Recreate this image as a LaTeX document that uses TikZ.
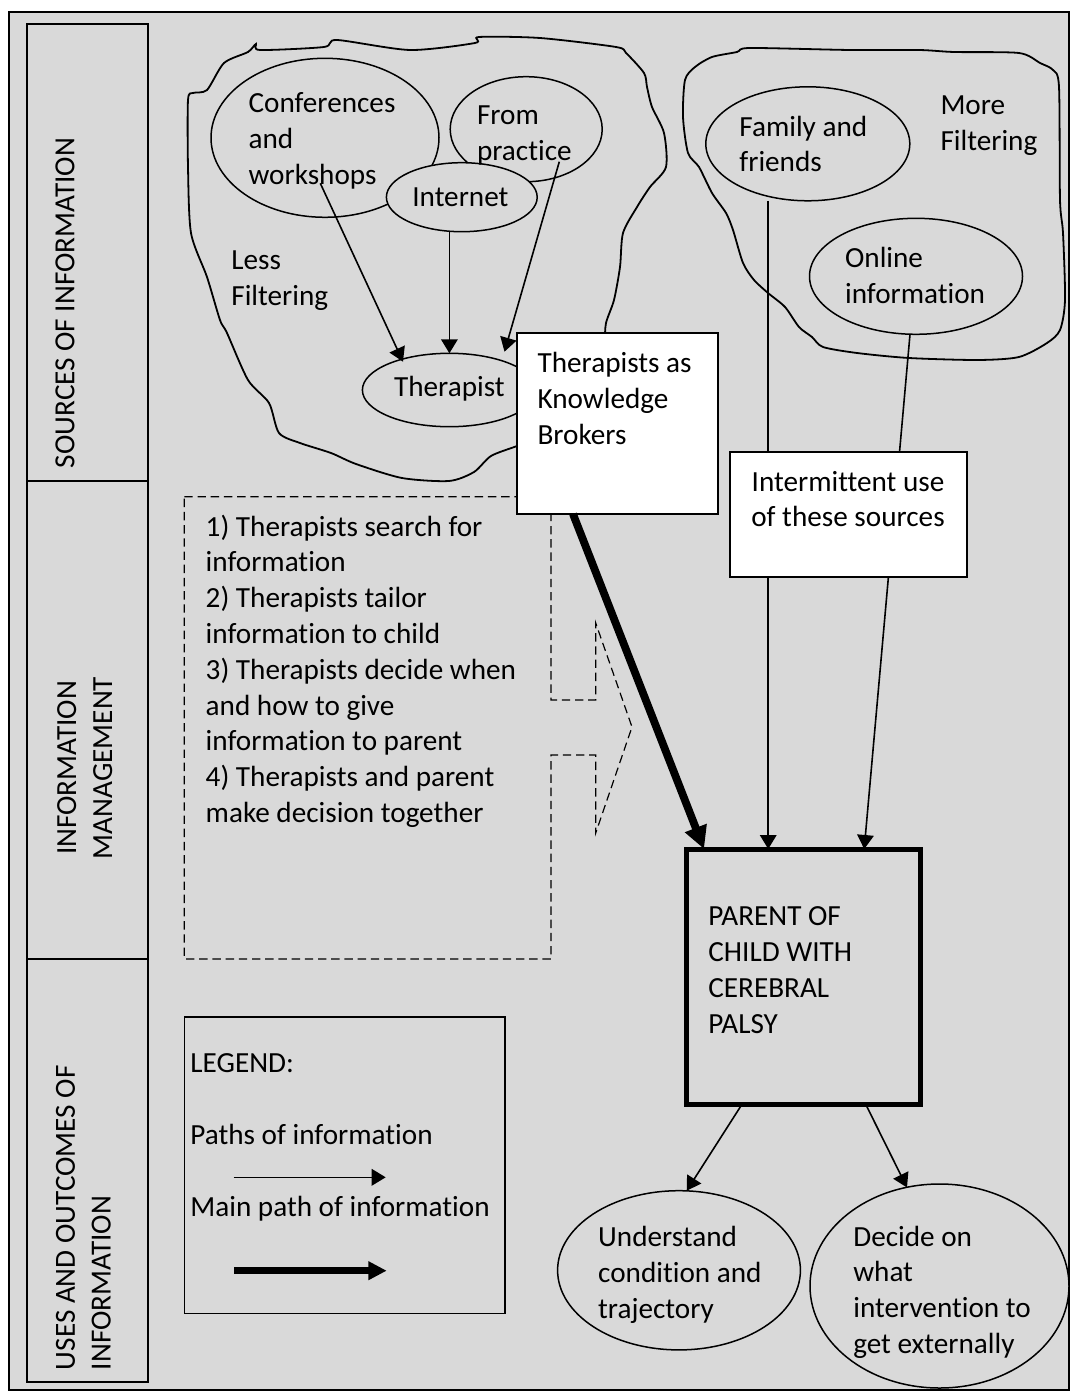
\documentclass[tikz,border=0pt]{standalone}
\usepackage{fontspec}
\setmainfont{Carlito}[Ligatures=NoCommon]
\usetikzlibrary{arrows.meta,shapes.geometric,calc}
\definecolor{panel}{HTML}{D9D9D9}
\begin{document}
\begin{tikzpicture}[x=0.5pt,y=-0.5pt,
  every node/.style={font=\fontsize{14.6pt}{17.9pt}\selectfont, inner sep=0pt, outer sep=0pt},
  txt/.style={align=left, anchor=base west},
  oval/.style={ellipse, draw, line width=0.75pt, fill=panel},
  whitebox/.style={draw, line width=0.9pt, fill=white, anchor=north west},
  link/.style={line width=0.8pt, -{Triangle[length=7pt,width=8.3pt]}},
  mainlink/.style={line width=3.9pt, -{Triangle[length=11.3pt,width=11pt]}},
  keylink/.style={line width=3.35pt, -{Triangle[length=9.2pt,width=8.9pt]}},
  blob/.style={line width=0.9pt},
  dashedge/.style={line width=0.6pt, dash pattern=on 4.2pt off 2.4pt}
]
\useasboundingbox (0,0) rectangle (1070,1391);

% outer panel
\draw[line width=1pt, fill=panel] (8.6,11.7) rectangle (1068.5,1389.5);

% section column (multi-line nodes sit on the baseline of their last line)
\draw[line width=0.9pt] (26.9,24.3) rectangle (148,1382);
\draw[line width=0.9pt] (26.9,481) -- (148,481);
\draw[line width=0.9pt] (26.9,959) -- (148,959);
\node[rotate=90, anchor=base west] (secA) at (74.4,468) {SOURCES OF INFORMATION};
\node[rotate=90, anchor=base, align=center] (secB) at (112,768) {INFORMATION\\MANAGEMENT};
\node[rotate=90, anchor=base west, align=left] (secC) at (110.6,1370) {USES AND OUTCOMES OF\\INFORMATION};

% hand-drawn outlines around the sources
\draw[blob] plot[smooth cycle, tension=0.45] coordinates {
  (248,52) (256,44) (260,50) (324,47) (337,40) (410,50) (475,43) (479,37)
  (540,38) (616,47) (626,53) (644,73) (647,87) (652,107) (664,133) (666,167)
  (650,187) (637,207) (623,233) (620,267) (614,300) (606,323) (604,345)
  (595,390) (560,430) (517,446) (491,456) (474,472) (449,481) (402,478)
  (356,464) (331,453) (300,443) (279,433) (269,403) (248,380) (227,333)
  (220,320) (207,277) (191,233) (188,167) (188,100) (193,93) (207,90) (224,63)};
\draw[blob] plot[smooth cycle, tension=0.45] coordinates {
  (750,48) (850,50) (919,50) (954,52) (1019,53) (1040,63) (1053,70) (1059,87)
  (1060,200) (1063,233) (1065,300) (1060,330) (1047,343) (1019,357) (978,360)
  (909,358) (857,353) (823,347) (812,337) (799,327) (785,307) (768,293)
  (754,280) (743,263) (733,230) (726,213) (712,193) (699,167) (688,153)
  (683,117) (685,80) (695,67) (712,57) (737,52)};

% source ellipses
\node[oval, minimum width=114pt, minimum height=79.5pt] (conf) at (325,137.8) {};
\node[oval, minimum width=76pt, minimum height=52.5pt] (prac) at (526.2,129.2) {};
\node[oval, minimum width=75.4pt, minimum height=34.5pt] (inet) at (461.8,197.2) {};
\node[oval, minimum width=87pt, minimum height=36.7pt] (ther) at (449.4,390) {};
\node[oval, minimum width=102pt, minimum height=57pt] (fam) at (807.8,143.8) {};
\node[oval, minimum width=106.5pt, minimum height=58pt] (onl) at (916,276.3) {};

\node[txt] (confT) at (248.6,184.3) {Conferences\\and\\workshops};
\node[txt] (pracT) at (477,160.2) {From\\practice};
\node[anchor=base] (inetT) at (460.4,206.1) {Internet};
\node[anchor=base] (therT) at (449.4,396.1) {Therapist};
\node[txt] (lessT) at (231.4,305.2) {Less\\Filtering};
\node[txt] (famT) at (739.4,171.9) {Family and\\friends};
\node[txt] (moreT) at (940.5,150.2) {More\\Filtering};
\node[txt] (onlT) at (845.1,303.5) {Online\\information};

% parent box
\node[draw, line width=2.5pt, anchor=north west, minimum width=116.75pt, minimum height=127.75pt] (parent) at (686.5,849) {};
\node[txt] (parentT) at (708.4,1033.3) {PARENT OF\\CHILD WITH\\CEREBRAL\\PALSY};

\coordinate (famtip) at ($(parent.north west)!0.350!(parent.north east)$);
\coordinate (onltip) at ($(parent.north west)!0.761!(parent.north east)$);
\coordinate (maintip) at ($(parent.north west)!0.075!(parent.north east)$);

% paths of information
\draw[link] ($(conf.center)+(-4.7,45.5)$) -- ($(ther.center)+(-46.4,-28.3)$);
\draw[link] (inet.south -| ther.north) -- (ther.north);
\draw[link] ($(prac.center)+(33.1,32.5)$) -- ($(ther.center)+(55.1,-38.3)$);
\draw[link] (fam.south -| famtip) -- (famtip);
\draw[link] ($(onl.south)+(-6,0)$) -- (onltip);

% information management steps
\draw[dashedge] (184.3,496.7) -- (551,496.7) -- (551,700) -- (595.7,700) -- (595.7,623)
  -- (632,727) -- (595.7,833) -- (595.7,755) -- (551,755) -- (551,959) -- (184.3,959) -- cycle;
\node[txt] (steps) at (205.7,822.5) {1) Therapists search for\\information\\2) Therapists tailor\\information to child\\3) Therapists decide when\\and how to give\\information to parent\\4) Therapists and parent\\make decision together};

% white boxes
\node[whitebox, minimum width=100.5pt, minimum height=90.35pt] (kb) at (516.7,333.3) {};
\node[txt] (kbT) at (537.6,444.3) {Therapists as\\Knowledge\\Brokers};
\node[whitebox, minimum width=118.35pt, minimum height=62.5pt] (inter) at (730,451.7) {};
\node[anchor=base, align=center] (interT) at (848,526.9) {Intermittent use\\of these sources};

% main path
\draw[mainlink] ($(kb.south west)!0.28!(kb.south east)$) -- (maintip);

% outcomes
\node[oval, minimum width=121.4pt, minimum height=79.6pt] (und) at (679,1270.3) {};
\node[oval, minimum width=129.5pt, minimum height=102pt] (dec) at (939.5,1286) {};
\node[txt] (undT) at (598.2,1318) {Understand\\condition and\\trajectory};
\node[txt] (decT) at (853.3,1353.5) {Decide on\\what\\intervention to\\get externally};
\draw[link] ($(parent.south west)!0.237!(parent.south east)$) -- ($(und.north)+(7.7,0)$);
\draw[link] ($(parent.south west)!0.768!(parent.south east)$) -- ($(dec.north)+(-32.5,3.5)$);

% legend
\node[draw, line width=0.8pt, anchor=north west, minimum width=160.15pt, minimum height=148.3pt] (legend) at (184.6,1016.7) {};
\node[txt] (legT) at (190.4,1072.7) {LEGEND:};
\node[txt] (leg1) at (190.4,1144.4) {Paths of information};
\node[txt] (leg2) at (190.4,1216.1) {Main path of information};
\coordinate (k1a) at (233.5,1177.3);
\coordinate (k1b) at (385.7,1177.3);
\coordinate (k2a) at (234,1270.7);
\coordinate (k2b) at (386.7,1270.7);
\draw[link] (k1a) -- (k1b);
\draw[keylink] (k2a) -- (k2b);
\end{tikzpicture}
\end{document}
